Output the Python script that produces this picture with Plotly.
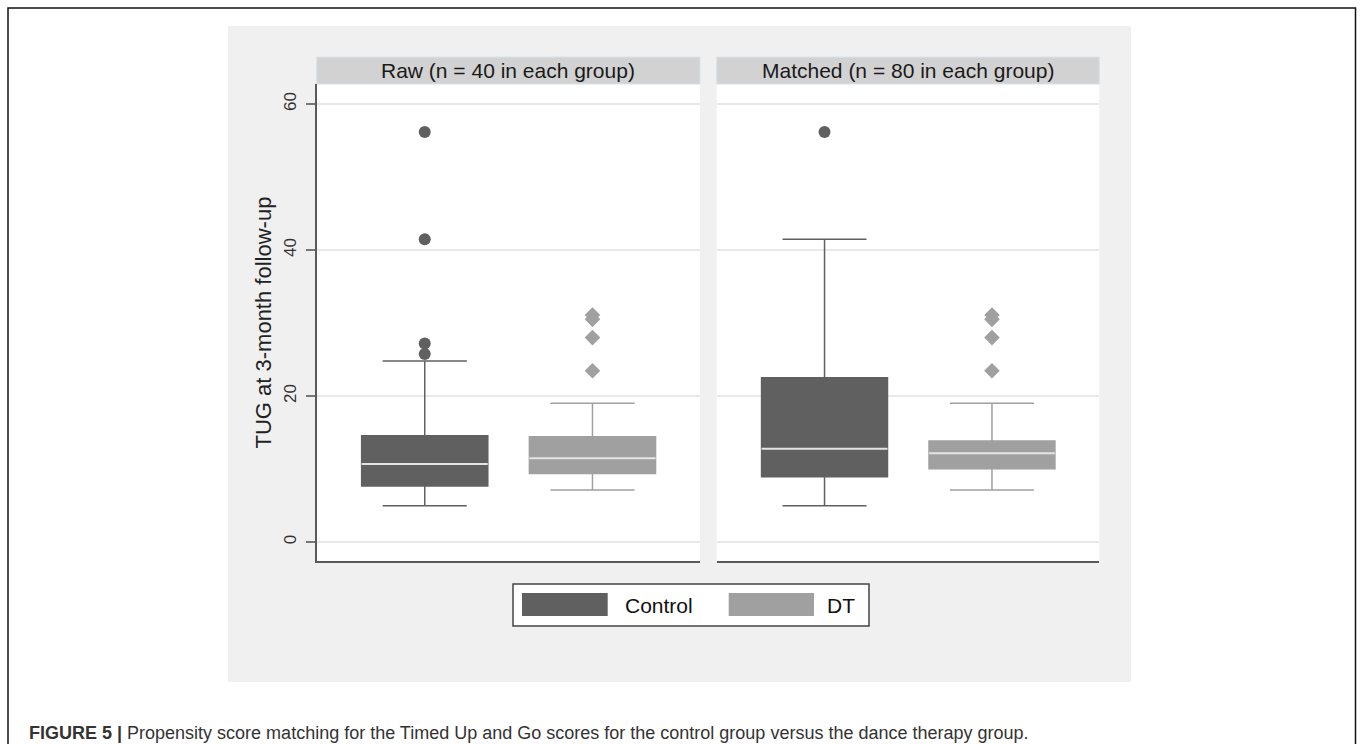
import plotly.graph_objects as go

# ---------------- data ----------------
groups = ["Control", "DT"]
group_pos = [0, 1]
panel_titles = ["Raw (n = 40 in each group)", "Matched (n = 80 in each group)"]

raw_q1 = [7.67, 9.40]
raw_median = [10.68, 11.46]
raw_q3 = [14.56, 14.43]
raw_lower = [4.98, 7.12]
raw_upper = [24.8, 19.0]
raw_outliers_control = [56.16, 41.46, 27.2, 25.75]
raw_outliers_dt = [31.1, 30.5, 28.0, 23.47]

matched_q1 = [8.95, 10.05]
matched_median = [12.78, 12.15]
matched_q3 = [22.5, 13.84]
matched_lower = [4.98, 7.12]
matched_upper = [41.46, 19.0]
matched_outliers_control = [56.16]
matched_outliers_dt = [31.1, 30.5, 28.0, 23.47]

y_ticks = [0, 20, 40, 60]
y_title = "TUG at 3-month follow-up"
caption_bold = "FIGURE 5 |"
caption_text = " Propensity score matching for the Timed Up and Go scores for the control group versus the dance therapy group."

# ---------------- style ----------------
W, H = 1360, 744
FONT = "Liberation Sans, Arial, sans-serif"
colors = ["#606060", "#a0a0a0"]
symbols = ["circle", "diamond"]
sizes = [12, 12]
BOX_W = 0.752
MEDIAN_COLOR = "#e4e4e4"

def px_x(v):
    return v / W

def px_y(v):
    return 1 - v / H

dom_x = [(px_x(316.7), px_x(700.0)), (px_x(716.7), px_x(1099.3))]
dom_y = (px_y(561), px_y(84))

fig = go.Figure()

panels = [
    (raw_q1, raw_median, raw_q3, raw_lower, raw_upper, [raw_outliers_control, raw_outliers_dt]),
    (matched_q1, matched_median, matched_q3, matched_lower, matched_upper,
     [matched_outliers_control, matched_outliers_dt]),
]

for p, (q1, med, q3, lo, up, outs) in enumerate(panels):
    xa = "x" if p == 0 else "x2"
    ya = "y" if p == 0 else "y2"
    for g in range(len(groups)):
        fig.add_trace(go.Box(
            x=[group_pos[g]], q1=[q1[g]], median=[med[g]], q3=[q3[g]],
            lowerfence=[lo[g]], upperfence=[up[g]],
            width=BOX_W, whiskerwidth=0.667,
            fillcolor=colors[g], line=dict(color=colors[g], width=1.5),
            boxpoints=False, showlegend=False, name=groups[g],
            xaxis=xa, yaxis=ya,
        ))
        # median line in light colour
        fig.add_trace(go.Scatter(
            x=[group_pos[g] - BOX_W / 2, group_pos[g] + BOX_W / 2],
            y=[med[g], med[g]], mode="lines",
            line=dict(color=MEDIAN_COLOR, width=2),
            showlegend=False, hoverinfo="skip", xaxis=xa, yaxis=ya,
        ))
        fig.add_trace(go.Scatter(
            x=[group_pos[g]] * len(outs[g]), y=outs[g], mode="markers",
            marker=dict(symbol=symbols[g], size=sizes[g], color=colors[g]),
            showlegend=False, xaxis=xa, yaxis=ya,
        ))

xrange = [-0.644, 1.641]
yrange = [-2.6, 62.74]

common_x = dict(range=xrange, showticklabels=False, ticks="", showgrid=False,
                zeroline=False, showline=True, linecolor="#5a5a5a", linewidth=2,
                fixedrange=True)
common_y = dict(range=yrange, tickvals=y_ticks, showgrid=True, gridcolor="#e9e9e9",
                gridwidth=1.5, zeroline=False, domain=dom_y, fixedrange=True)

fig.update_layout(
    width=W, height=H,
    margin=dict(l=0, r=0, t=0, b=0),
    paper_bgcolor="white", plot_bgcolor="white",
    font=dict(family=FONT, color="#222222"),
    xaxis=dict(domain=dom_x[0], anchor="y", **common_x),
    xaxis2=dict(domain=dom_x[1], anchor="y2", **common_x),
    yaxis=dict(anchor="x", showline=True, linecolor="#5a5a5a", linewidth=1.5,
               ticks="outside", ticklen=9, tickwidth=1.5, tickcolor="#777777",
               tickangle=-90, tickfont=dict(size=17, color="#333333"),
               ticklabelstandoff=3, **common_y),
    yaxis2=dict(anchor="x2", matches="y", showline=False, showticklabels=False,
                ticks="", **common_y),
    showlegend=False,
)

shapes = []
# outer frame
shapes.append(dict(type="rect", xref="paper", yref="paper",
                   x0=px_x(8), x1=px_x(1355.5), y0=-0.05, y1=px_y(8),
                   line=dict(color="#111111", width=1.5), fillcolor="rgba(0,0,0,0)",
                   layer="below"))
# grey graph region
shapes.append(dict(type="rect", xref="paper", yref="paper",
                   x0=px_x(228), x1=px_x(1131), y0=px_y(682), y1=px_y(26),
                   line=dict(width=0), fillcolor="#f0f0f0", layer="below"))
# white plot areas
for dx in dom_x:
    shapes.append(dict(type="rect", xref="paper", yref="paper",
                       x0=dx[0], x1=dx[1], y0=dom_y[0], y1=dom_y[1],
                       line=dict(width=0), fillcolor="white", layer="below"))
    # strip header
    shapes.append(dict(type="rect", xref="paper", yref="paper",
                       x0=dx[0], x1=dx[1], y0=px_y(84), y1=px_y(57),
                       line=dict(color="#d8e2ea", width=1), fillcolor="#d2d2d2",
                       layer="below"))
# legend box
shapes.append(dict(type="rect", xref="paper", yref="paper",
                   x0=px_x(513), x1=px_x(869), y0=px_y(626), y1=px_y(584),
                   line=dict(color="#444444", width=1.5), fillcolor="white"))
legend_sw = [(522, 607.7), (728.7, 814)]
legend_tx = [622.7, 825]
for g in range(len(groups)):
    shapes.append(dict(type="rect", xref="paper", yref="paper",
                       x0=px_x(legend_sw[g][0]), x1=px_x(legend_sw[g][1]),
                       y0=px_y(616), y1=px_y(593),
                       line=dict(width=0), fillcolor=colors[g]))

annotations = []
for p, dx in enumerate(dom_x):
    annotations.append(dict(text=panel_titles[p], xref="paper", yref="paper",
                            x=(dx[0] + dx[1]) / 2, y=px_y(70.5),
                            xanchor="center", yanchor="middle", showarrow=False,
                            font=dict(size=21, color="#1a1a1a", family=FONT)))
for g in range(len(groups)):
    annotations.append(dict(text=groups[g], xref="paper", yref="paper",
                            x=px_x(legend_tx[g]), y=px_y(605),
                            xanchor="left", yanchor="middle", showarrow=False,
                            font=dict(size=21, color="#111111", family=FONT)))
annotations.append(dict(text=y_title, xref="paper", yref="paper",
                        x=px_x(263), y=(dom_y[0] + dom_y[1]) / 2, textangle=-90,
                        xanchor="center", yanchor="middle", showarrow=False,
                        font=dict(size=22, color="#222222", family=FONT)))
annotations.append(dict(text="<b>" + caption_bold + "</b>" + caption_text,
                        xref="paper", yref="paper", x=px_x(27), y=px_y(733),
                        xanchor="left", yanchor="middle", showarrow=False,
                        font=dict(size=18, color="#333333", family=FONT)))

fig.update_layout(shapes=shapes, annotations=annotations)

fig.write_html("out.html", config={"displayModeBar": False},
               post_script="document.body.style.margin='0';document.body.style.overflow='hidden';")
